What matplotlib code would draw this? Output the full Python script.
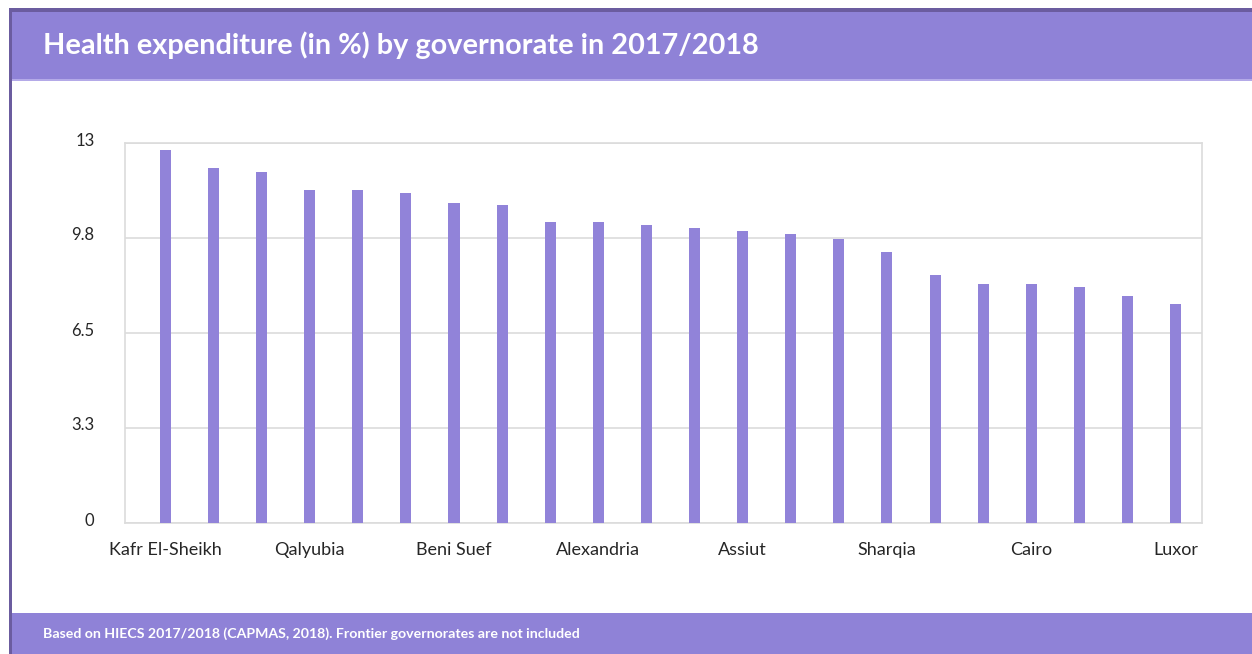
import matplotlib.pyplot as plt
from matplotlib.patches import Rectangle
from matplotlib.transforms import ScaledTranslation

# health expenditure share (%) per governorate, frontier governorates excluded
governorates = [
    "Kafr El-Sheikh", "Dakahlia", "Gharbia", "Qalyubia", "Monufia", "Beheira",
    "Beni Suef", "Fayoum", "Damietta", "Alexandria", "Minya", "Sohag",
    "Assiut", "Qena", "Giza", "Sharqia", "Ismailia", "Port Said",
    "Cairo", "Suez", "Aswan", "Luxor",
]
expenditure = [
    12.77, 12.13, 12.00, 11.40, 11.40, 11.29, 10.94, 10.88, 10.30, 10.30, 10.21,
    10.08, 9.98, 9.88, 9.71, 9.26, 8.47, 8.19, 8.19, 8.07, 7.78, 7.48,
]
y_ticks = [0, 3.25, 6.5, 9.75, 13]
y_tick_labels = ["0", "3.3", "6.5", "9.8", "13"]

title = "Health expenditure (in %) by governorate in 2017/2018"
note = "Based on HIECS 2017/2018 (CAPMAS, 2018). Frontier governorates are not included"

PURPLE = "#8f82d7"
BAR = "#9183d9"
BORDER = "#6b5c9f"
GRID = "#dcdcdc"
TEXT = "#262626"

plt.rcParams['font.family'] = ['Lato', 'DejaVu Sans']

W, H = 1252, 654
fig = plt.figure(figsize=(W / 100, H / 100), dpi=100)
fig.patch.set_facecolor("white")


def px_rect(x0, y0, x1, y1, color):
    # rectangle given in pixels measured from the top-left corner
    r = Rectangle((x0 / W, 1 - y1 / H), (x1 - x0) / W, (y1 - y0) / H,
                  transform=fig.transFigure, facecolor=color,
                  edgecolor="none", zorder=0)
    fig.add_artist(r)


# frame, header and footer bands
px_rect(9, 8, W, 12, BORDER)
px_rect(9, 8, 12, H, BORDER)
px_rect(12, 12, W, 80, PURPLE)
px_rect(12, 79, W, 81, "#b4aae8")
px_rect(12, 613, W, H, PURPLE)

fig.text(43 / W, 1 - 45 / H, title, color="white", fontsize=20.8,
         fontweight="bold", ha="left", va="center")
fig.text(43 / W, 1 - 634 / H, note, color="white", fontsize=10.2,
         fontweight="bold", ha="left", va="center")

ax = fig.add_axes([125 / W, 1 - 523 / H, (1202 - 125) / W, (523 - 143) / H])
x = range(len(governorates))
ax.bar(x, expenditure, width=0.23, color=BAR, zorder=3)

ax.set_ylim(0, 13)
ax.set_xlim(-0.84, 21.55)
ax.set_yticks(y_ticks)
ax.set_yticklabels(y_tick_labels)
ax.set_xticks(list(x)[::3])
ax.set_xticklabels(governorates[::3])

ax.grid(axis="y", color=GRID, linewidth=1.2, zorder=0)
for s in ax.spines.values():
    s.set_color(GRID)
    s.set_linewidth(1.2)
ax.tick_params(axis="both", length=0, labelsize=12, colors=TEXT)
ax.tick_params(axis="x", pad=14, labelsize=13)
ax.tick_params(axis="y", pad=22)

# nudge the y labels slightly above their gridlines
shift = ScaledTranslation(0, 4 / 100, fig.dpi_scale_trans)
for lbl in ax.get_yticklabels():
    lbl.set_transform(lbl.get_transform() + shift)

fig.savefig("out.png", dpi=100)
